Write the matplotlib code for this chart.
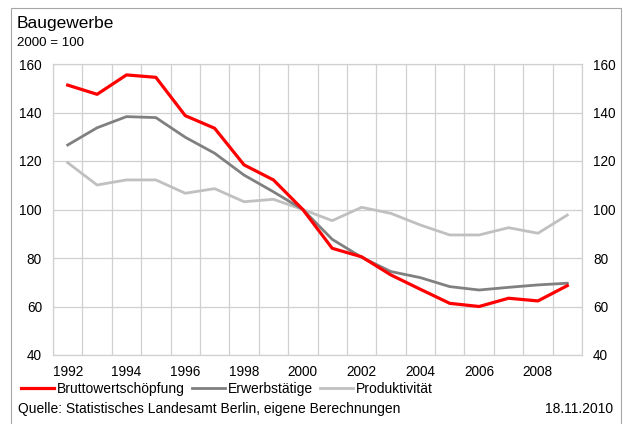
import matplotlib
matplotlib.use("Agg")
import matplotlib.pyplot as plt
from matplotlib.patches import Rectangle
from matplotlib.lines import Line2D

plt.rcParams['font.family'] = ['Liberation Sans', 'DejaVu Sans']

years = list(range(1992, 2010))
bruttowertschoepfung = [151.3, 147.5, 155.5, 154.5, 138.7, 133.5, 118.4, 112.2, 100.0,
                        84.0, 80.5, 73.0, 67.1, 61.3, 60.0, 63.4, 62.3, 68.6]
erwerbstaetige = [126.6, 133.7, 138.3, 137.9, 129.8, 123.2, 114.2, 107.3, 100.0,
                  87.7, 80.3, 74.4, 71.9, 68.2, 66.8, 67.9, 68.9, 69.6]
produktivitaet = [119.3, 110.1, 112.2, 112.2, 106.7, 108.6, 103.2, 104.2, 100.0,
                  95.4, 100.9, 98.4, 93.6, 89.5, 89.5, 92.5, 90.2, 97.7]
y_ticks = [40, 60, 80, 100, 120, 140, 160]

W, H = 623, 424
fig = plt.figure(figsize=(W / 100, H / 100), dpi=100)

# outer frame (bottom edge lies below the visible canvas)
fig.patches.append(Rectangle((11 / W, -0.05), (621 - 11) / W, (1 - 7.5 / H) + 0.05,
                             transform=fig.transFigure, fill=False,
                             edgecolor='#a6a6a6', linewidth=0.8))

ax = fig.add_axes([53 / W, 1 - 355 / H, (582 - 53) / W, (355 - 64) / H])
x = list(range(len(years)))

ax.plot(x, bruttowertschoepfung, color='#ff0000', lw=2.3, solid_joinstyle='round', zorder=4)
ax.plot(x, erwerbstaetige, color='#808080', lw=2.0, solid_joinstyle='round', zorder=3)
ax.plot(x, produktivitaet, color='#c0c0c0', lw=2.0, solid_joinstyle='round', zorder=2)

ax.set_xlim(-0.5, len(years) - 0.5)
ax.set_ylim(40, 160)
ax.set_yticks(y_ticks)
ax.set_xticks(x[::2])
ax.set_xticklabels([str(y) for y in years[::2]])
ax.set_xticks([i - 0.5 for i in range(len(years) + 1)], minor=True)

ax.grid(True, axis='y', color='#d0d0d0', lw=0.9)
ax.grid(True, axis='x', which='minor', color='#d0d0d0', lw=0.9)
ax.grid(False, axis='x', which='major')
ax.set_axisbelow(True)
for s in ax.spines.values():
    s.set_color('#d0d0d0')
    s.set_linewidth(0.9)

ax.tick_params(axis='both', which='both', length=0, labelsize=9.8, colors='#000000')
ax.tick_params(axis='y', labelright=True, pad=8)
ax.tick_params(axis='x', pad=7)

fig.text(17 / W, 1 - 28 / H, 'Baugewerbe', fontsize=12.5, ha='left', va='baseline')
fig.text(17 / W, 1 - 46 / H, '2000 = 100', fontsize=9.6, ha='left', va='baseline')

handles = [Line2D([], [], color='#ff0000', lw=2.3),
           Line2D([], [], color='#808080', lw=2.0),
           Line2D([], [], color='#c0c0c0', lw=2.0)]
labels = ['Bruttowertschöpfung', 'Erwerbstätige', 'Produktivität']
fig.legend(handles, labels, loc='center left', bbox_to_anchor=(21 / W, 1 - 389 / H),
           ncol=3, frameon=False, fontsize=10, handlelength=2.4, handletextpad=0.2,
           columnspacing=0.5, borderaxespad=0, borderpad=0)

fig.text(18 / W, 1 - 413 / H, 'Quelle: Statistisches Landesamt Berlin, eigene Berechnungen',
         fontsize=10, ha='left', va='baseline')
fig.text(613 / W, 1 - 413 / H, '18.11.2010', fontsize=10, ha='right', va='baseline')

fig.savefig('out.png', dpi=100)
